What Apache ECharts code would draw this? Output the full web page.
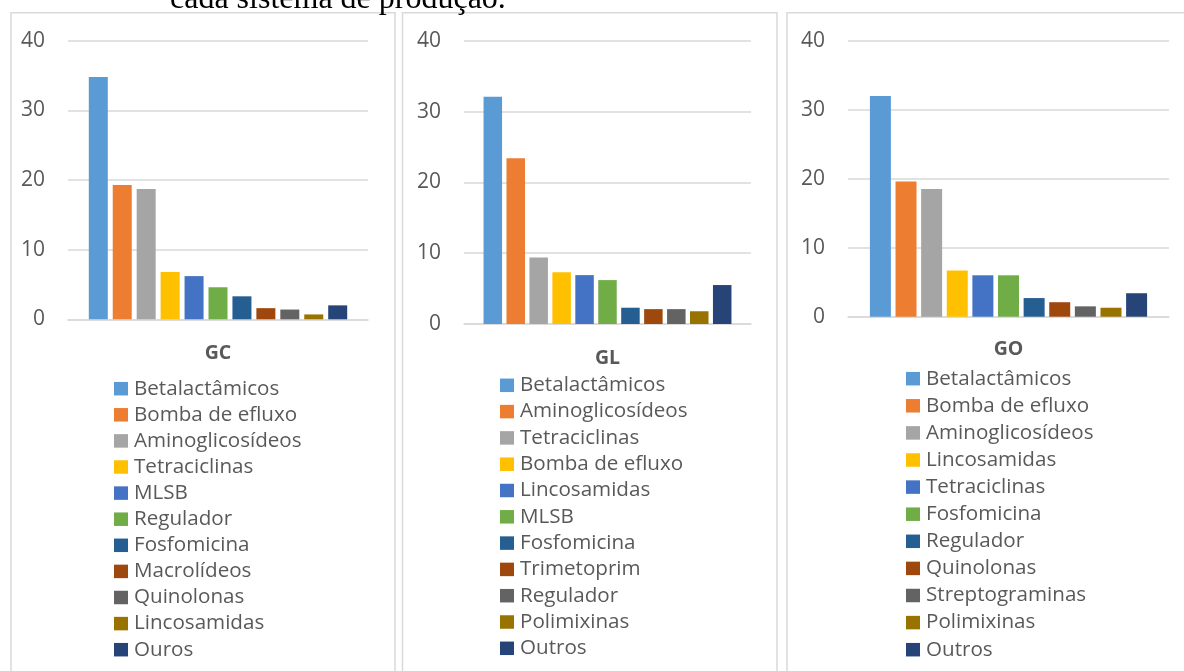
<!DOCTYPE html>
<html>
<head>
<meta charset="utf-8">
<script src="https://cdn.jsdelivr.net/npm/echarts@6/dist/echarts.min.js"></script>
<style>
  html, body { margin: 0; padding: 0; background: #ffffff; }
  #chart { width: 1184px; height: 671px; }
</style>
</head>
<body>
<div id="chart"></div>
<script>
// Office-style series colours, shared by position across the three panels
const palette = ['#5B9BD5', '#ED7D31', '#A5A5A5', '#FFC000', '#4472C4', '#70AD47',
                 '#255E91', '#9E480E', '#636363', '#997300', '#264478'];

// GC
const gcClasses = ['Betalactâmicos', 'Bomba de efluxo', 'Aminoglicosídeos', 'Tetraciclinas', 'MLSB',
                   'Regulador', 'Fosfomicina', 'Macrolídeos', 'Quinolonas', 'Lincosamidas', 'Ouros'];
const gcValues = [34.8, 19.3, 18.7, 6.8, 6.2, 4.6, 3.3, 1.6, 1.4, 0.7, 2.0];

// GL
const glClasses = ['Betalactâmicos', 'Aminoglicosídeos', 'Tetraciclinas', 'Bomba de efluxo', 'Lincosamidas',
                   'MLSB', 'Fosfomicina', 'Trimetoprim', 'Regulador', 'Polimixinas', 'Outros'];
const glValues = [32.1, 23.4, 9.4, 7.3, 6.9, 6.2, 2.3, 2.1, 2.1, 1.8, 5.5];

// GO
const goClasses = ['Betalactâmicos', 'Bomba de efluxo', 'Aminoglicosídeos', 'Lincosamidas', 'Tetraciclinas',
                   'Fosfomicina', 'Regulador', 'Quinolonas', 'Streptograminas', 'Polimixinas', 'Outros'];
const goValues = [32.0, 19.6, 18.5, 6.7, 6.0, 6.0, 2.7, 2.1, 1.5, 1.3, 3.4];

const yMin = 0, yMax = 40, yStep = 10;

const TEXT = '#595959';
const GRID = '#d9d9d9';
const FONT = 'Open Sans';

// Panel layout (pixels)
const panels = [
  { label: 'GC', classes: gcClasses, values: gcValues,
    grid: { left: 68, top: 40.7, width: 300, height: 278.6 },
    barWidth: 19, barGap: '26%', catMargin: 24,
    legend: { left: 114, top: 377.7, gap: 4.1 },
    frame: { x: 11, w: 384 } },
  { label: 'GL', classes: glClasses, values: glValues,
    grid: { left: 464, top: 40.7, width: 287, height: 283.3 },
    barWidth: 18.5, barGap: '24%', catMargin: 24.5,
    legend: { left: 500, top: 374.3, gap: 4.3 },
    frame: { x: 402.5, w: 374.5 } },
  { label: 'GO', classes: goClasses, values: goValues,
    grid: { left: 848, top: 40.7, width: 321, height: 276 },
    barWidth: 21, barGap: '22%', catMargin: 22.5,
    legend: { left: 906, top: 367.7, gap: 5.1 },
    frame: { x: 787, w: 420 } }
];

const grids = [], xAxes = [], yAxes = [], series = [], legends = [], frames = [];

panels.forEach((p, i) => {
  grids.push(Object.assign({ containLabel: false }, p.grid));

  xAxes.push({
    type: 'category', gridIndex: i, data: [p.label],
    axisLine: { show: true, lineStyle: { color: GRID, width: 1.5 } },
    axisTick: { show: false },
    axisLabel: { color: TEXT, fontFamily: FONT, fontSize: 19.5, fontWeight: 'bold',
                 margin: p.catMargin, lineHeight: 20 }
  });

  yAxes.push({
    type: 'value', gridIndex: i, min: yMin, max: yMax, interval: yStep,
    axisLine: { show: false }, axisTick: { show: false },
    axisLabel: { color: TEXT, fontFamily: FONT, fontSize: 21, margin: 23 },
    splitLine: { lineStyle: { color: GRID, width: 1.5 } }
  });

  const names = [];
  p.classes.forEach((cls, j) => {
    const id = p.label + '|' + cls;
    names.push(id);
    series.push({
      type: 'bar', name: id, xAxisIndex: i, yAxisIndex: i,
      data: [p.values[j]],
      barWidth: p.barWidth, barGap: p.barGap,
      itemStyle: { color: palette[j] }
    });
  });

  legends.push({
    data: names, orient: 'vertical', left: p.legend.left, top: p.legend.top,
    padding: 0, itemGap: p.legend.gap, itemWidth: 14, itemHeight: 13.5,
    icon: 'rect', selectedMode: false,
    formatter: n => n.split('|')[1],
    textStyle: { color: TEXT, fontFamily: FONT, fontSize: 20.6, lineHeight: 22, padding: [0, 0, 0, 1] }
  });

  frames.push({
    type: 'rect', silent: true, z: -1,
    shape: { x: p.frame.x, y: 12.7, width: p.frame.w, height: 700 },
    style: { fill: '#ffffff', stroke: GRID, lineWidth: 1.5 }
  });
});

const chart = echarts.init(document.getElementById('chart'), null, { renderer: 'canvas' });
chart.setOption({
  backgroundColor: '#ffffff',
  animation: false,
  grid: grids, xAxis: xAxes, yAxis: yAxes, series: series, legend: legends,
  graphic: frames.concat([{
    type: 'text', left: 170, top: -16, z: 10, silent: true,
    style: { text: 'cada sistema de produção.', fill: '#000000',
             font: '32px "Liberation Serif"' }
  }])
});
</script>
</body>
</html>
